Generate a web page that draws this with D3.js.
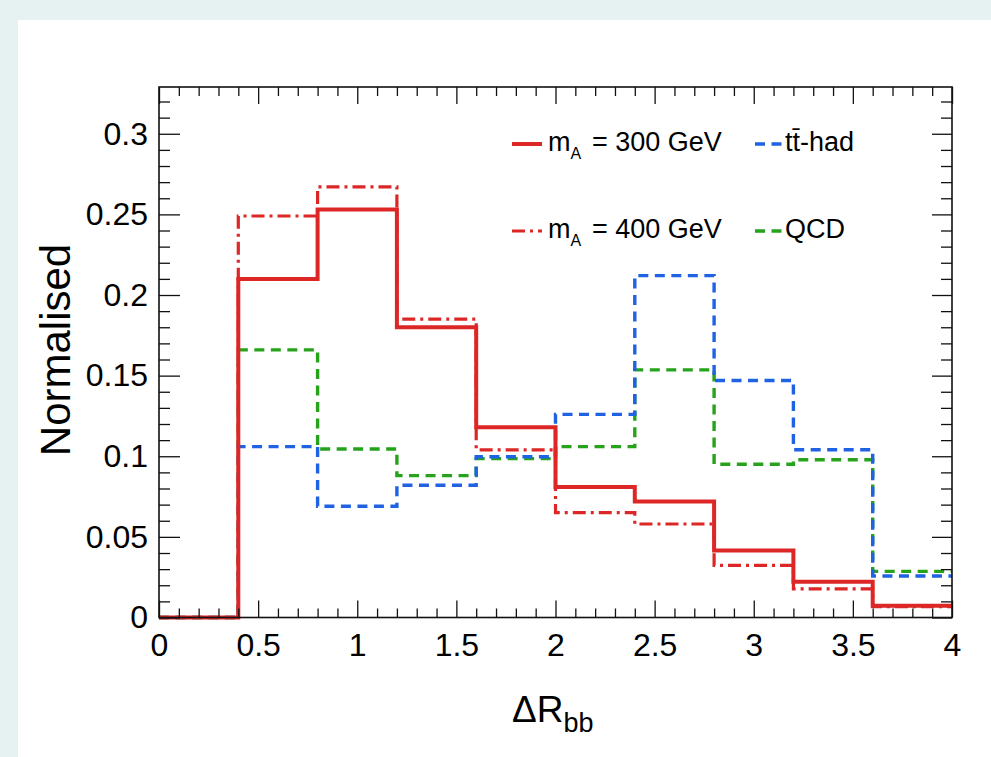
<!DOCTYPE html>
<html>
<head>
<meta charset="utf-8">
<script src="https://cdn.jsdelivr.net/npm/d3@7/dist/d3.min.js"></script>
<style>
  html, body { margin: 0; padding: 0; background: #e6f1f1; }
  svg { display: block; }
  text { font-family: "Liberation Sans", Arial, Helvetica, sans-serif; fill: #000; }
</style>
</head>
<body>
<svg id="chart" width="991" height="757"></svg>
<script>
// ---- data ----
const binEdges = [0, 0.4, 0.8, 1.2, 1.6, 2.0, 2.4, 2.8, 3.2, 3.6, 4.0];
const mA300 = [0, 0.210, 0.253, 0.180, 0.118, 0.081, 0.072, 0.0415, 0.0222, 0.0073];
const mA400 = [0, 0.249, 0.267, 0.185, 0.104, 0.065, 0.058, 0.0323, 0.0178, 0.0068];
const ttHad = [0, 0.106, 0.069, 0.082, 0.0997, 0.126, 0.212, 0.147, 0.104, 0.0257];
const qcd   = [0, 0.166, 0.1045, 0.088, 0.0985, 0.106, 0.1536, 0.095, 0.0978, 0.0286];
const xTickLabels = ["0", "0.5", "1", "1.5", "2", "2.5", "3", "3.5", "4"];
const yTickLabels = ["0", "0.05", "0.1", "0.15", "0.2", "0.25", "0.3"];
const seriesNames = ["m_A = 300 GeV", "m_A = 400 GeV", "tt\u0304-had", "QCD"];

const svg = d3.select("#chart");
// white canvas panel
svg.append("rect").attr("x", 18).attr("y", 20).attr("width", 991 - 18).attr("height", 757 - 20).attr("fill", "#fff");

const L = 159, R = 952, T = 87, B = 617.5;
const x = d3.scaleLinear().domain([0, 4]).range([L, R]);
const y = d3.scaleLinear().domain([0, 0.329]).range([B, T]);

const red = "#dd2727", blue = "#1f62e3", green = "#26a31a";

// ---- histograms ----
function stepPoints(vals) {
  const pts = [];
  vals.forEach((v, i) => { pts.push([binEdges[i], v]); pts.push([binEdges[i + 1], v]); });
  return pts;
}
const line = d3.line().x(d => x(d[0])).y(d => y(d[1]));
const g = svg.append("g");
const styles = [
  { data: mA300, color: red, w: 4.0, dash: null },
  { data: mA400, color: red, w: 3.2, dash: "13,5,3,5" },
  { data: ttHad, color: blue, w: 3.4, dash: "10,6.5" },
  { data: qcd, color: green, w: 3.4, dash: "10,6.5" }
];
// draw order: backgrounds first, signal on top
[3, 2, 1, 0].forEach(k => {
  const s = styles[k];
  g.append("path").attr("d", line(stepPoints(s.data)))
    .attr("fill", "none").attr("stroke", s.color).attr("stroke-width", s.w)
    .attr("stroke-dasharray", s.dash).attr("stroke-linejoin", "miter");
});

// ---- axes / ticks ----
const xMajor = d3.range(0, 4.0001, 0.5);
const xMinor = d3.range(0, 40.5, 1).map(d => d / 10).filter(d => Math.abs(d * 2 - Math.round(d * 2)) > 1e-6);
const yMajor = d3.range(0, 7).map(d => d * 0.05);
const yMinor = d3.range(0, 33).map(d => d / 100).filter(d => (Math.round(d * 100) % 5) !== 0);

function styleAxis(sel) {
  sel.select(".domain").remove();
  sel.selectAll("line").attr("stroke", "#111").attr("stroke-width", 1.3);
  sel.selectAll("text").style("font-family", "'Liberation Sans', Arial, sans-serif").attr("fill", "#000");
}
// bottom
svg.append("g").attr("transform", `translate(0,${B})`)
  .call(d3.axisBottom(x).tickValues(xMajor).tickSize(-17).tickPadding(15.5)
    .tickFormat((d, i) => xTickLabels[i]))
  .call(styleAxis).call(s => s.selectAll("text").style("font-size", "32px"));
svg.append("g").attr("transform", `translate(0,${B})`)
  .call(d3.axisBottom(x).tickValues(xMinor).tickSize(-9).tickFormat(""))
  .call(styleAxis);
// top
svg.append("g").attr("transform", `translate(0,${T})`)
  .call(d3.axisTop(x).tickValues(xMajor).tickSize(-17).tickFormat(""))
  .call(styleAxis);
svg.append("g").attr("transform", `translate(0,${T})`)
  .call(d3.axisTop(x).tickValues(xMinor).tickSize(-9).tickFormat(""))
  .call(styleAxis);
// left
svg.append("g").attr("transform", `translate(${L},0)`)
  .call(d3.axisLeft(y).tickValues(yMajor).tickSize(-21).tickPadding(11)
    .tickFormat((d, i) => yTickLabels[i]))
  .call(styleAxis).call(s => s.selectAll("text").style("font-size", "32px"));
svg.append("g").attr("transform", `translate(${L},0)`)
  .call(d3.axisLeft(y).tickValues(yMinor).tickSize(-11).tickFormat(""))
  .call(styleAxis);
// right
svg.append("g").attr("transform", `translate(${R},0)`)
  .call(d3.axisRight(y).tickValues(yMajor).tickSize(-20).tickFormat(""))
  .call(styleAxis);
svg.append("g").attr("transform", `translate(${R},0)`)
  .call(d3.axisRight(y).tickValues(yMinor).tickSize(-11).tickFormat(""))
  .call(styleAxis);

// frame
svg.append("rect").attr("x", L).attr("y", T).attr("width", R - L).attr("height", B - T)
  .attr("fill", "none").attr("stroke", "#111").attr("stroke-width", 1.6);

// ---- axis titles ----
const xt = svg.append("text").attr("x", 512).attr("y", 722).attr("font-size", 37);
xt.append("tspan").text("\u0394R");
xt.append("tspan").attr("font-size", 27).attr("dy", 10).text("bb");

svg.append("text").attr("transform", "translate(70,350) rotate(-90)")
  .attr("text-anchor", "middle").attr("font-size", 42).text("Normalised");

// ---- legend ----
const leg = svg.append("g");
const legItems = [
  { s: styles[0], lx: 512, ly: 144, name: seriesNames[0] },
  { s: styles[1], lx: 512, ly: 231, name: seriesNames[1] },
  { s: styles[2], lx: 755, ly: 144, name: seriesNames[2] },
  { s: styles[3], lx: 755, ly: 231, name: seriesNames[3] }
];
legItems.forEach(it => {
  leg.append("line").attr("x1", it.lx).attr("x2", it.lx + 30).attr("y1", it.ly).attr("y2", it.ly)
    .attr("stroke", it.s.color).attr("stroke-width", it.s.w).attr("stroke-dasharray", it.s.dash);
  const parts = it.name.split("_A");
  if (parts.length === 2) {
    const t = leg.append("text").attr("x", it.lx + 36).attr("y", it.ly + 6.5).attr("font-size", 27);
    t.append("tspan").text(parts[0]);
    t.append("tspan").attr("font-size", 16).attr("dy", 8.5).text("A");
    t.append("tspan").attr("x", it.lx + 80).attr("dy", -8.5).text(parts[1].trim());
  } else {
    leg.append("text").attr("x", it.lx + 30).attr("y", it.ly + 6.5).attr("font-size", 27).text(it.name);
  }
});
</script>
</body>
</html>
